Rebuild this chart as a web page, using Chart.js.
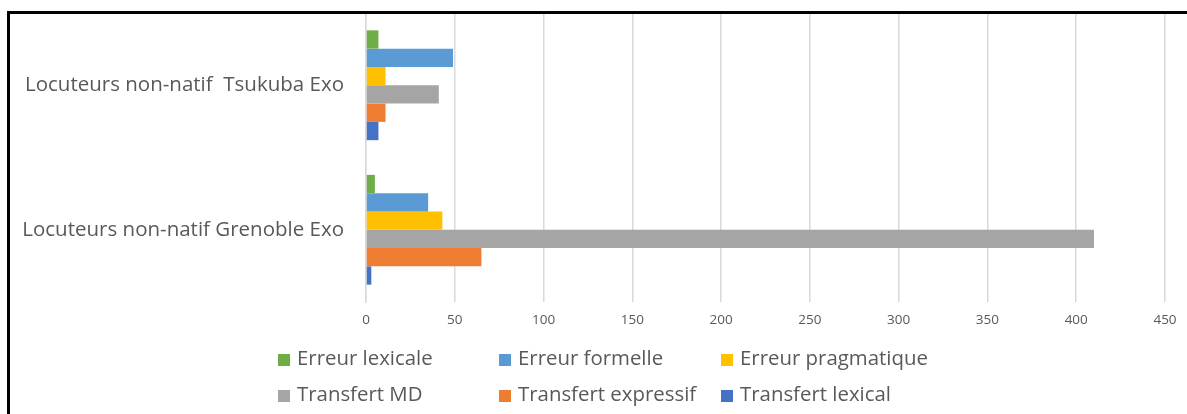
<!DOCTYPE html>
<html>
<head>
<meta charset="utf-8">
<script src="https://cdn.jsdelivr.net/npm/chart.js@4"></script>
<style>
    html, body { margin: 0; padding: 0; background: #fff; overflow: hidden; }
    #wrap { position: absolute; left: 0; top: 0; width: 1187px; height: 414px; }
    #frame {
        position: absolute; left: 7px; top: 11px; width: 1200px; height: 420px;
        border-top: 3px solid #000; border-left: 3px solid #000; pointer-events: none;
    }
    .leg {
        position: absolute; font-family: "Open Sans", sans-serif; font-size: 20.4px;
        color: #595959; white-space: nowrap; line-height: 24px;
    }
    .leg span {
        display: inline-block; width: 12px; height: 12px; margin-right: 7px; vertical-align: -1px;
    }
</style>
</head>
<body>
<div id="wrap"><canvas id="myChart"></canvas></div>
<div id="legend"></div>
<div id="frame"></div>
<script>
const categories = ['Locuteurs non-natif  Tsukuba Exo', 'Locuteurs non-natif Grenoble Exo'];

const erreurLexicale = [7, 5];
const erreurFormelle = [49, 35];
const erreurPragmatique = [11, 43];
const transfertMD = [41, 410];
const transfertExpressif = [11, 65];
const transfertLexical = [7, 3];

const seriesNames = ['Erreur lexicale', 'Erreur formelle', 'Erreur pragmatique',
    'Transfert MD', 'Transfert expressif', 'Transfert lexical'];
const seriesValues = [erreurLexicale, erreurFormelle, erreurPragmatique,
    transfertMD, transfertExpressif, transfertLexical];
const colors = ['#70AD47', '#5B9BD5', '#FFC000', '#A5A5A5', '#ED7D31', '#4472C4'];

const xMax = 450;
const xStep = 50;

function drawChart(id) {
    let datasets = []
    for (let i = 0; i < seriesNames.length; i++) {
        datasets.push({
            label: seriesNames[i],
            data: seriesValues[i],
            backgroundColor: colors[i],
            borderWidth: 0,
            barPercentage: 1,
            categoryPercentage: 0.76
        })
    }

    const config = {
        type: 'bar',
        data: { labels: categories, datasets: datasets },
        options: {
            indexAxis: 'y',
            responsive: true,
            maintainAspectRatio: false,
            animation: false,
            layout: { padding: { left: 0, top: 13, right: 22, bottom: 82 } },
            plugins: {
                legend: { display: false },
                tooltip: { enabled: false }
            },
            scales: {
                x: {
                    min: 0,
                    max: xMax,
                    ticks: {
                        stepSize: xStep,
                        padding: 10,
                        color: '#595959',
                        font: { family: 'Open Sans', size: 13.5 }
                    },
                    grid: { color: '#d9d9d9', lineWidth: 1.5, drawTicks: false },
                    border: { display: false },
                    afterFit: (scale) => { scale.height = 30 }
                },
                y: {
                    ticks: {
                        padding: 22,
                        color: '#595959',
                        font: { family: 'Open Sans', size: 20.5 }
                    },
                    grid: { display: false, drawTicks: false },
                    border: { color: '#d9d9d9', width: 1.5 },
                    afterFit: (scale) => {
                        scale.width = 366
                        // tick padding should only push the labels sideways
                        scale.paddingTop = 0
                        scale.paddingBottom = 0
                    }
                }
            }
        }
    };

    let ctx = document.getElementById(id).getContext('2d')
    new Chart(ctx, config)
}

function drawLegend(id) {
    const colLeft = [278, 499, 721];
    const rowMid = [357, 393];
    let box = document.getElementById(id)
    for (let i = 0; i < seriesNames.length; i++) {
        let item = document.createElement('div')
        item.className = 'leg'
        item.style.left = colLeft[i % 3] + 'px'
        item.style.top = (rowMid[Math.floor(i / 3)] - 12) + 'px'
        item.innerHTML = '<span style="background:' + colors[i] + '"></span>' + seriesNames[i]
        box.appendChild(item)
    }
}

drawChart('myChart')
drawLegend('legend')
</script>
</body>
</html>
